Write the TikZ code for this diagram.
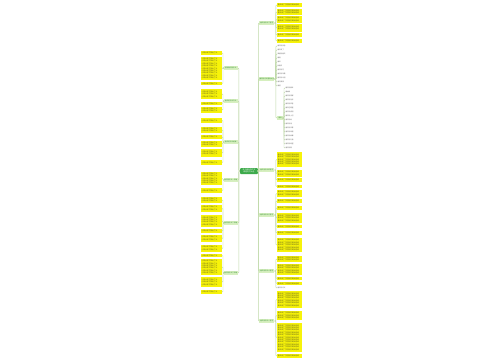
\documentclass[tikz,border=0pt]{standalone}
\usepackage{fontspec}
\newfontfamily\cjk{Noto Sans CJK SC}
\definecolor{cgreen}{HTML}{3DAA4B}
\definecolor{bgreen}{HTML}{D6EFBF}
\definecolor{btext}{HTML}{2E8B2E}
\definecolor{leafy}{HTML}{F7F30A}
\definecolor{ltext}{HTML}{5A5A20}
\definecolor{linec}{HTML}{BFD9A8}
\ExplSyntaxOn
\NewDocumentCommand\fillines{mm}{\prg_replicate:nn{#1-1}{#2\\}#2}
\ExplSyntaxOff
\tikzset{
  centre/.style={fill=cgreen, rounded corners=1pt, minimum width=18pt, minimum height=6pt, inner sep=0.4pt, align=center, font=\cjk\fontsize{1.8}{2.2}\selectfont, text=white},
  branch/.style={fill=bgreen, minimum height=3.2pt, inner sep=0.3pt, font=\cjk\fontsize{1.6}{2}\selectfont, text=btext},
  leaf/.style={fill=leafy, inner sep=0.6pt, align=left, font=\cjk\fontsize{1.75}{2.4}\selectfont, text=ltext},
  plain/.style={inner sep=0.3pt, font=\cjk\fontsize{1.6}{2}\selectfont, text=black!60},
  conn/.style={draw=linec, line width=0.45pt, rounded corners=0.8pt}
}
\newcommand\rleaf[3]{%
  \pgfmathsetmacro\hh{#3-#2}%
  \pgfmathtruncatemacro\nl{max(1,floor((#3-#2-1)/2.4))}%
  \node[leaf, text width=23.6pt, minimum height=\hh pt, anchor=west] (#1) at (277,{(#2+#3)/2}) {\fillines{\nl}{春天来了万物复苏到处是绿}};}
\newcommand\lleaf[3]{%
  \pgfmathsetmacro\hh{#3-#2}%
  \pgfmathtruncatemacro\nl{max(1,floor((#3-#2-1)/2.4))}%
  \node[leaf, text width=19.6pt, minimum height=\hh pt, anchor=east] (#1) at (222,{(#2+#3)/2}) {\fillines{\nl}{小草从地下探出了头}};}
\newcommand\rc[2]{\draw[conn] (#1.east) -| ([xshift=-1.1pt]#2.west) -- (#2.west);}
\newcommand\lc[2]{\draw[conn] (#1.west) -| ([xshift=1pt]#2.east) -- (#2.east);}
\begin{document}
\begin{tikzpicture}[x=1pt, y=-1pt]
\useasboundingbox[fill=white] (0,0) rectangle (500,360);

% centre
\node[centre] (c) at (249,171) {关于春天的作文\\精选范文大全};

% right branches
\node[branch, minimum width=15pt, anchor=west] (b1) at (259,23) {春天的作文三百字};
\node[branch, minimum width=15pt, anchor=west] (b2) at (259,79) {春天的作文题目大全};
\node[branch, minimum width=15pt, anchor=west] (b3) at (259,170) {春天的作文四百字};
\node[branch, minimum width=15pt, anchor=west] (b4) at (259,215) {春天的作文五百字};
\node[branch, minimum width=15pt, anchor=west] (b5) at (259,271) {春天的作文六百字};
\node[branch, minimum width=15pt, anchor=west] (b6) at (259,321) {春天的作文八百字};
\node[branch, minimum width=6pt, anchor=west] (s) at (277,118) {题目};

% left branches
\node[branch, minimum width=14pt, anchor=east] (l1) at (238,68) {描写春天的作文};
\node[branch, minimum width=14pt, anchor=east] (l2) at (238,101) {春天的作文开头};
\node[branch, minimum width=14pt, anchor=east] (l3) at (238,142) {春天的作文结尾};
\node[branch, minimum width=14pt, anchor=east] (l4) at (238,180) {春天的作文一年级};
\node[branch, minimum width=14pt, anchor=east] (l5) at (238,223) {春天的作文二年级};
\node[branch, minimum width=14pt, anchor=east] (l6) at (238,273) {春天的作文三年级};

% trunk connectors
\foreach \b in {b1,b2,b3,b4,b5,b6}{\draw[conn] (c.east) -| ([xshift=-0.6pt]\b.west) -- (\b.west);}
\foreach \b in {l1,l2,l3,l4,l5,l6}{\draw[conn] (c.west) -| ([xshift=0.8pt]\b.east) -- (\b.east);}

% right leaves
\rleaf{ra1}{3}{7}\rleaf{ra2}{9}{15}\rleaf{ra3}{16}{23}\rleaf{ra4}{24}{32}\rleaf{ra5}{33}{37}\rleaf{ra6}{39}{43}
\foreach \n in {ra1,ra2,ra3,ra4,ra5,ra6}{\rc{b1}{\n}}

\foreach \i/\yy/\t in {1/46/春天的景色,2/50/春天来了,3/54/美丽的春天,4/58/春雨,5/62/春风,6/66/找春天,7/70/春天的花,8/74/春天的早晨,9/78/春天的公园,10/82/春天真美,11/86/春游}{
  \node[plain, anchor=west] (p\i) at (277,\yy) {\t};
  \draw[conn] (b2.east) -| ([xshift=-1.1pt]p\i.west) -- (p\i.west);}
\draw[conn] (b2.east) -| ([xshift=-1.1pt]s.west) -- (s.west);

\foreach \i/\yy/\t in {1/88/春天的脚步,2/92/春姑娘,3/96/春天的田野,4/100/春天的色彩,5/104/春天的声音,6/108/春天在哪里,7/112/春天的校园,8/116/春天的小河,9/120/春天的树,10/124/春天的雨,11/128/春天的风筝,12/132/春天的味道,13/136/春天的故事,14/140/春天的礼物,15/144/春天的希望,16/148/春天的歌}{
  \node[plain, anchor=west] (q\i) at (285,\yy) {\t};
  \draw[conn] (s.east) -| ([xshift=-1pt]q\i.west) -- (q\i.west);}

\rleaf{rc1}{152}{167}\rleaf{rc2}{170}{177}\rleaf{rc3}{178}{182}\rleaf{rc4}{185}{188}
\foreach \n in {rc1,rc2,rc3,rc4}{\rc{b3}{\n}}

\rleaf{rd1}{190}{197}\rleaf{rd2}{199}{203}\rleaf{rd3}{206}{210}\rleaf{rd4}{213}{223}\rleaf{rd5}{225}{228}\rleaf{rd6}{231}{235}\rleaf{rd7}{238}{252}
\foreach \n in {rd1,rd2,rd3,rd4,rd5,rd6,rd7}{\rc{b4}{\n}}

\rleaf{re1}{256}{262}\rleaf{re2}{264}{275}\rleaf{re3}{277}{280}\rleaf{re4}{282}{285}
\node[plain, anchor=west] (re5) at (277,288) {春天的作文};
\foreach \n in {re1,re2,re3,re4,re5}{\rc{b5}{\n}}

\rleaf{rf1}{291}{308}\rleaf{rf2}{311}{320}\rleaf{rf3}{323}{352}\rleaf{rf4}{354}{358}
\foreach \n in {rf1,rf2,rf3,rf4}{\rc{b6}{\n}}

% left leaves
\lleaf{la1}{51}{55}\lleaf{la2}{57}{80}\lleaf{la3}{82}{85}
\foreach \n in {la1,la2,la3}{\lc{l1}{\n}}
\lleaf{lb1}{89}{99}\lleaf{lb2}{102}{105}\lleaf{lb3}{107}{113}
\foreach \n in {lb1,lb2,lb3}{\lc{l2}{\n}}
\lleaf{lc1}{118}{123}\lleaf{lc2}{127}{133}\lleaf{lc3}{135}{139}\lleaf{lc4}{141}{147}\lleaf{lc5}{149}{157}\lleaf{lc6}{160}{165}
\foreach \n in {lc1,lc2,lc3,lc4,lc5,lc6}{\lc{l3}{\n}}
\lleaf{ld1}{172}{185}\lleaf{ld2}{188}{193}
\foreach \n in {ld1,ld2}{\lc{l4}{\n}}
\lleaf{le1}{197}{203}\lleaf{le2}{205}{212}\lleaf{le3}{215}{227}\lleaf{le4}{229}{233}\lleaf{le5}{235}{242}\lleaf{le6}{245}{252}
\foreach \n in {le1,le2,le3,le4,le5,le6}{\lc{l5}{\n}}
\lleaf{lf1}{254}{257}\lleaf{lf2}{259}{275}\lleaf{lf3}{277}{287}\lleaf{lf4}{290}{294}
\foreach \n in {lf1,lf2,lf3,lf4}{\lc{l6}{\n}}
\end{tikzpicture}
\end{document}
